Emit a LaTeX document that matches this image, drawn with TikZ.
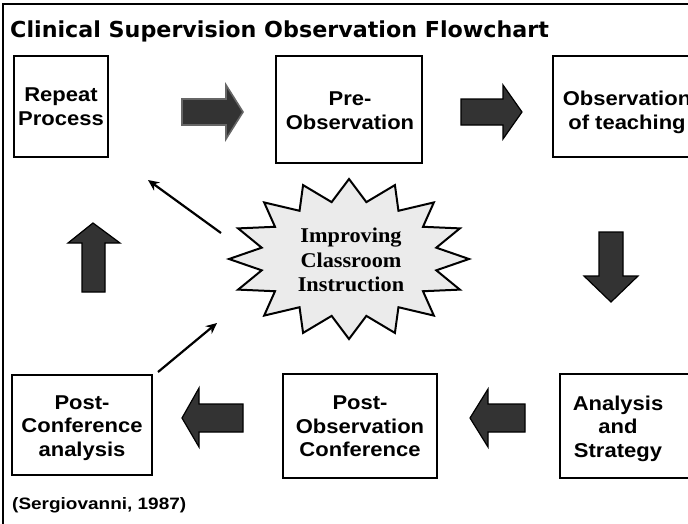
\documentclass[tikz,border=0pt]{standalone}
\usepackage{fontspec}
\usepackage{graphicx}
\setmainfont{Liberation Sans}
\newfontfamily\titlefont{DejaVu Sans}
\newfontfamily\starfont{Liberation Serif}
\newcommand\stretchtext[2]{\scalebox{#1}[1]{\begin{tabular}{@{}c@{}}#2\end{tabular}}}
\usetikzlibrary{arrows.meta}
\begin{document}
\begin{tikzpicture}[x=1pt,y=-1pt,
  box/.style={draw=black,line width=2pt,fill=white},
  boxtext/.style={align=center,font=\fontsize{20}{23.5}\selectfont\bfseries,inner sep=0pt},
  blockarrow/.style={draw=black,line width=1.2pt,fill=black!80,line join=miter},
  thinarrow/.style={line width=2.2pt,-{Stealth[length=11pt,width=10pt]}}]
\useasboundingbox (0,0) rectangle (688,523);
\clip (0,0) rectangle (688,523);
\fill[white] (0,0) rectangle (688,523);
% frame
\draw[line width=2.5pt] (3,700) -- (3,4) -- (720,4);
% title
\node[anchor=base west,inner sep=0pt,font=\titlefont\fontsize{22}{25}\selectfont\bfseries] (title) at (10,37) {\scalebox{1.01}[1]{Clinical Supervision Observation Flowchart}};
% boxes
\draw[box] (14,56) rectangle (108,157);
\node[boxtext] (repeat) at (61,109) {\stretchtext{1.1}{Repeat\\Process}};
\draw[box] (276,56) rectangle (422,163);
\node[boxtext] (pre) at (350,113) {\stretchtext{1.1}{Pre-\\Observation}};
\draw[box] (553,56) rectangle (720,157);
\node[boxtext] (obs) at (627,113) {\stretchtext{1.1}{Observation\\of teaching}};
\draw[box] (560,374) rectangle (720,478);
\node[boxtext] (anal) at (618,429) {\stretchtext{1.1}{Analysis\\and\\Strategy}};
\draw[box] (283,374) rectangle (437,478);
\node[boxtext] (postobs) at (360,428.5) {\stretchtext{1.1}{Post-\\Observation\\Conference}};
\draw[box] (12,375) rectangle (152,475);
\node[boxtext] (postconf) at (82,428) {\stretchtext{1.1}{Post-\\Conference\\analysis}};
% block arrows
\draw[blockarrow,draw=black!60,line width=1.6pt] (182,99) -- (226,99) -- (226,85) -- (243,112) -- (226,139) -- (226,125) -- (182,125) -- cycle;
\draw[blockarrow] (461,99) -- (503,99) -- (503,85) -- (522,112) -- (503,139) -- (503,125) -- (461,125) -- cycle;
\draw[blockarrow] (599,232) -- (623,232) -- (623,276) -- (638,276) -- (611,302) -- (584,276) -- (599,276) -- cycle;
\draw[blockarrow] (525,404) -- (488,404) -- (488,389) -- (470,418) -- (488,447) -- (488,432) -- (525,432) -- cycle;
\draw[blockarrow] (243,404) -- (199,404) -- (199,388) -- (182,418) -- (199,447) -- (199,432) -- (243,432) -- cycle;
\draw[blockarrow] (82,292) -- (82,243) -- (68,243) -- (93,223) -- (120,243) -- (105,243) -- (105,292) -- cycle;
% star
\fill[black!8] plot[samples=33,domain=0:32,variable=\k] ({349+(mod(\k,2)==0 ? 120 : 89)*cos(\k*11.25)},{259+(mod(\k,2)==0 ? 80 : 58)*sin(\k*11.25)});
\draw[line width=2pt,line join=miter] plot[samples=33,domain=0:32,variable=\k] ({349+(mod(\k,2)==0 ? 120 : 89)*cos(\k*11.25)},{259+(mod(\k,2)==0 ? 80 : 58)*sin(\k*11.25)}) -- cycle;
\node[align=center,inner sep=0pt,font=\starfont\fontsize{21}{24.5}\selectfont\bfseries] (star) at (351,262.5) {\stretchtext{1.06}{Improving\\Classroom\\Instruction}};
% thin arrows
\coordinate (a1s) at (221,233);
\coordinate (a1e) at (148,180);
\coordinate (a2s) at (158,372);
\coordinate (a2e) at (217,323);
\draw[thinarrow] (a1s) -- (a1e);
\draw[thinarrow] (a2s) -- (a2e);
% citation
\node[anchor=base west,inner sep=0pt,font=\fontsize{16.5}{20}\selectfont\bfseries] (cite) at (12,509) {\scalebox{1.15}[1]{(Sergiovanni, 1987)}};
\end{tikzpicture}
\end{document}
